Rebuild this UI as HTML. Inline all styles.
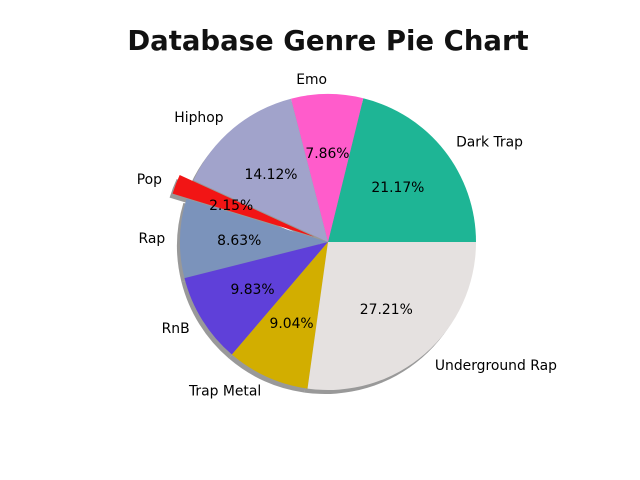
<!DOCTYPE html>
<html><head><meta charset="utf-8"><style>
html,body{margin:0;padding:0;background:#fff;}
svg{display:block;font-family:"DejaVu Sans","Liberation Sans",sans-serif;}
</style></head><body>
<svg id="chart" width="640" height="480" viewBox="0 0 640 480">
<rect width="640" height="480" fill="#fff"/>
<text x="328" y="50" text-anchor="middle" font-size="27.5" font-weight="bold" fill="#111">Database Genre Pie Chart</text>
<g id="shadows"></g><g id="slices"></g><g id="labels"></g>
</svg>
<script>
const categories = ["Dark Trap","Emo","Hiphop","Pop","Rap","RnB","Trap Metal","Underground Rap"];
const values = [21.17,7.86,14.12,2.15,8.63,9.83,9.04,27.21];
const colors = ["#1eb595","#ff5ccb","#a1a3cb","#f21515","#7b93bb","#5f40d9","#d2ae00","#e5e1e0"];
const explode = [0,0,0,0.1,0,0,0,0];

const NS="http://www.w3.org/2000/svg";
const cx=328, cy=242, R=148;
const total=values.reduce((a,b)=>a+b,0);
const sh=document.getElementById('shadows'), sl=document.getElementById('slices'), lb=document.getElementById('labels');
function arcPath(x,y,a0,a1){
  const x0=x+R*Math.cos(a0), y0=y-R*Math.sin(a0), x1=x+R*Math.cos(a1), y1=y-R*Math.sin(a1);
  const large=(a1-a0)>Math.PI?1:0;
  return `M${x},${y}L${x0},${y0}A${R},${R} 0 ${large} 0 ${x1},${y1}Z`;
}
let acc=0;
values.forEach((v,i)=>{
  const a0=acc/total*2*Math.PI; acc+=v; const a1=acc/total*2*Math.PI;
  const am=(a0+a1)/2;
  const ox=cx+explode[i]*R*Math.cos(am), oy=cy-explode[i]*R*Math.sin(am);
  const s=document.createElementNS(NS,'path');
  s.setAttribute('d',arcPath(ox-3,oy+4,a0,a1));
  s.setAttribute('fill','#555');s.setAttribute('fill-opacity','0.6');
  
  
  sh.appendChild(s);
  const p=document.createElementNS(NS,'path');
  p.setAttribute('d',arcPath(ox,oy,a0,a1));
  p.setAttribute('fill',colors[i]);
  
  
  sl.appendChild(p);
  const lx=ox+1.1*R*Math.cos(am), ly=oy-1.1*R*Math.sin(am);
  const t=document.createElementNS(NS,'text');
  t.setAttribute('x',lx);t.setAttribute('y',ly+5);t.setAttribute('font-size','13.9');
  t.setAttribute('text-anchor',Math.cos(am)>=0?'start':'end');
  t.textContent=categories[i];
  
  
  lb.appendChild(t);
  const px=ox+0.6*R*Math.cos(am), py=oy-0.6*R*Math.sin(am);
  const q=document.createElementNS(NS,'text');
  q.setAttribute('x',px);q.setAttribute('y',py+5);q.setAttribute('font-size','13.9');
  q.setAttribute('text-anchor','middle');
  q.textContent=v.toFixed(2)+'%';
  
  
  lb.appendChild(q);
});
</script>
</body></html>
